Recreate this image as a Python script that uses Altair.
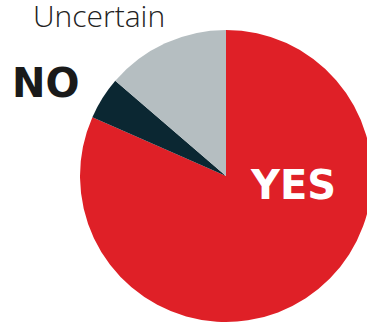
import altair as alt
import pandas as pd

categories = ["YES", "NO", "Uncertain"]
values = [81.6, 4.7, 13.7]
order = [1, 2, 3]
colors = ["#DF2027", "#0B2732", "#B5BEC1"]

df = pd.DataFrame({"category": categories, "value": values, "order": order})

base = alt.Chart(df)

pie = base.mark_arc(outerRadius=146, stroke=None).encode(
    theta=alt.Theta("value:Q", stack=True),
    order=alt.Order("order:Q"),
    color=alt.Color("category:N", scale=alt.Scale(domain=categories, range=colors), legend=None),
    x=alt.value(226),
    y=alt.value(176),
)

def label(cat, x, y, size, weight, color, font):
    return base.transform_filter(alt.datum.category == cat).mark_text(
        align="left", baseline="alphabetic", font=font,
        fontSize=size, fontWeight=weight, color=color,
    ).encode(text="category:N", x=alt.value(x), y=alt.value(y))

chart = alt.layer(
    pie,
    label("Uncertain", 33, 27, 30, 300, "#222222", "Open Sans"),
    label("NO", 12, 97, 40, "bold", "#1a1a1a", "DejaVu Sans"),
    label("YES", 251, 199, 40, "bold", "#ffffff", "DejaVu Sans"),
).properties(
    width=367, height=323, padding=0, autosize=alt.AutoSizeParams(type="none")
).configure_view(stroke=None)

chart.save("out.html", embed_options={"renderer": "svg", "actions": False})
